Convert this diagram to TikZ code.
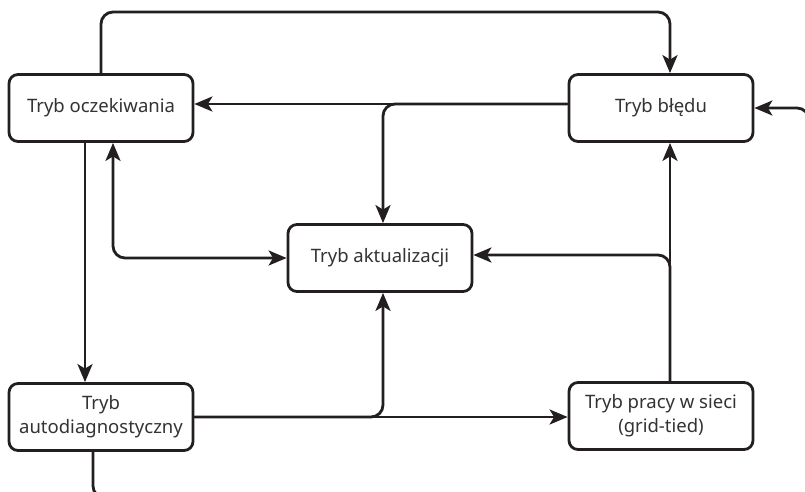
\documentclass[tikz,border=0pt]{standalone}
\usepackage{fontspec}
\setmainfont{Noto Sans}
\usetikzlibrary{arrows.meta}
\definecolor{ln}{HTML}{231F20}
\definecolor{tx}{HTML}{333333}
\tikzset{
  tip/.tip={Stealth[length=18pt,width=15pt,inset=4.5pt]},
  box/.style={draw=ln, line width=2.8pt, rounded corners=9pt, minimum width=184pt, minimum height=67pt, align=center, text=tx, font=\fontsize{18.5}{24}\selectfont, fill=white},
  conn/.style={draw=ln, line width=2.8pt, rounded corners=12pt, -tip},
  conn2/.style={draw=ln, line width=2.8pt, rounded corners=12pt, tip-tip}
}
\begin{document}
\begin{tikzpicture}[x=1pt,y=-1pt]
\useasboundingbox (0,0) rectangle (805,491);
\clip (0,0) rectangle (805,491);
\node[box] (ocz) at (101,108) {Tryb oczekiwania};
\node[box] (bl) at (661,108) {Tryb błędu};
\node[box] (akt) at (380,258) {Tryb aktualizacji};
\node[box] (auto) at (101,417) {Tryb\\autodiagnostyczny};
\node[box] (pr) at (661,416) {Tryb pracy w sieci\\(grid-tied)};
\coordinate (top) at (0,12);
\coordinate (hy) at (0,104);
\coordinate (ay) at (0,255);
\coordinate (ly) at (0,498);
\coordinate (rx) at (809,0);
% top loop
\draw[conn] (ocz.north) -- (ocz.north |- top) -| ([xshift=9pt]bl.north);
% error -> standby and update
\draw[conn] (bl.west |- hy) -- (ocz.east |- hy);
\draw[conn] (bl.west |- hy) -| ([xshift=3pt]akt.north);
% standby -> selfdiag
\draw[conn] ([xshift=-16pt]ocz.south) -- ([xshift=-16pt]auto.north);
% standby <-> update
\draw[conn2] ([xshift=12pt]ocz.south) |- (akt.west);
% selfdiag -> grid and update
\draw[conn] (auto.east) -- (auto.east -| pr.west);
\draw[conn] (auto.east) -| ([xshift=3pt]akt.south);
% grid -> error and update
\draw[conn] ([xshift=9pt]pr.north) -- ([xshift=9pt]bl.south);
\draw[conn] ([xshift=9pt]pr.north) |- (akt.east |- ay);
% selfdiag -> error (around outside)
\draw[conn] ([xshift=-8pt]auto.south) -- ([xshift=-8pt]auto.south |- ly) -- (rx |- ly) -- (rx |- bl.east) -- (bl.east);
\end{tikzpicture}
\end{document}
